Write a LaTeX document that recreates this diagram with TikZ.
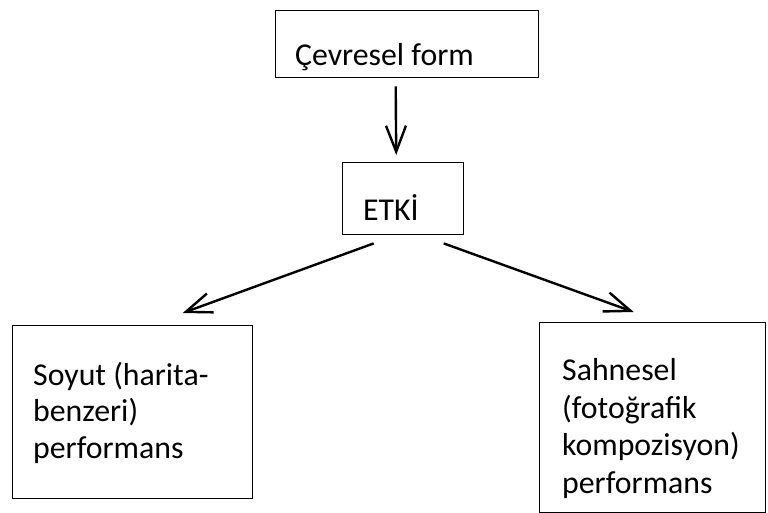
\documentclass[tikz,border=0pt]{standalone}
\usepackage{fontspec}
\setmainfont{Carlito}
\usetikzlibrary{arrows.meta,calc}
\begin{document}
\begin{tikzpicture}[x=1pt,y=-1pt,
  frame/.style={draw=black,line width=1.4pt,inner sep=0pt,anchor=north west},
  label/.style={inner sep=0pt,anchor=base west,align=left,
    font=\fontsize{31.8}{36.5}\selectfont},
  flow/.style={line width=2.4pt,
    -{Straight Barb[length=26pt,width=20pt,line width=2.4pt]}}]
  \useasboundingbox (0,0) rectangle (768,513);
  % boxes
  \node[frame,minimum width=263pt,minimum height=67pt] (form) at (275,10) {};
  \node[frame,minimum width=121pt,minimum height=72pt] (etki) at (342,162) {};
  \node[frame,minimum width=240pt,minimum height=173pt] (soyut) at (12,325) {};
  \node[frame,minimum width=226pt,minimum height=190pt] (sahne) at (539,322) {};
  % texts (multi-line labels are placed by the baseline of their last line)
  \node[label] (tform) at (295,66) {Çevresel form};
  \node[label] (tetki) at (363,220) {ETKİ};
  \node[label] (tsoyut) at (33,458) {Soyut (harita-\\benzeri)\\performans};
  \node[label,font=\fontsize{31.8}{37.5}\selectfont] (tsahne) at (562,493)
    {Sahnesel\\(fotoğrafik\\kompozisyon)\\performans};
  % arrows
  \draw[flow] ($(form.south)+(-11.5,8)$) -- ($(etki.north)+(-7,-7)$);
  \draw[flow] ($(etki.south)+(-29.5,8)$) -- ($(soyut.north)+(50,-12)$);
  \draw[flow] ($(etki.south)+(40.5,8)$) -- ($(sahne.north)+(-19,-10)$);
\end{tikzpicture}
\end{document}
